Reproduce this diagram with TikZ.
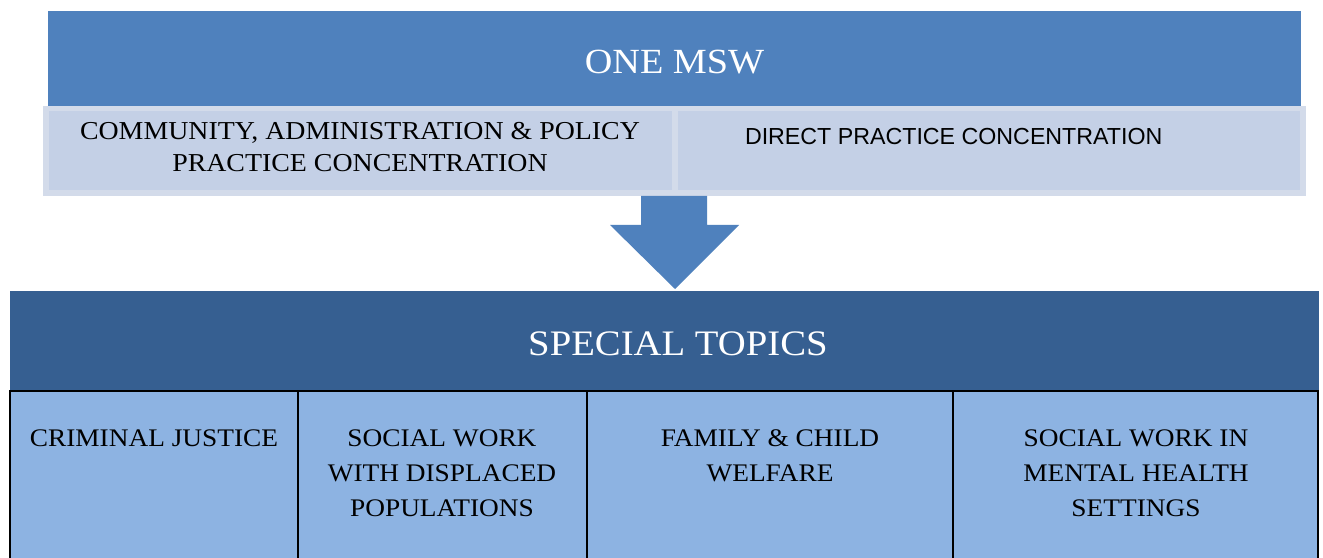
\documentclass[tikz,border=0pt]{standalone}
\usepackage{fontspec}
\setmainfont{Liberation Serif}[FakeStretch=1.08]
\newfontfamily\arialf{Liberation Sans}
\definecolor{topblue}{HTML}{4F81BD}
\definecolor{bandout}{HTML}{D3DBEA}
\definecolor{bandin}{HTML}{C4D0E6}
\definecolor{darkblue}{HTML}{365F91}
\definecolor{cellblue}{HTML}{8DB3E2}
\begin{document}
\begin{tikzpicture}[x=1bp,y=-1bp,
  plain/.style={inner sep=0pt, outer sep=0pt},
  headtxt/.style={plain, text=white, font=\fontsize{35.5}{40}\selectfont},
  conctxt/.style={plain, align=center, font=\fontsize{25.9}{32}\selectfont},
  celltxt/.style={plain, align=center, font=\fontsize{25.4}{35.5}\selectfont},
  cellbox/.style={fill=cellblue, draw=black, line width=2bp}]
\useasboundingbox (0,0) rectangle (1323,558);
\fill[white] (0,0) rectangle (1323,558);
% top header
\fill[topblue] (48,11) rectangle (1301,106);
\node[headtxt] (msw) at (674.5,62.5) {ONE MSW};
% concentrations band
\fill[bandout] (43,106) rectangle (1306,196);
\fill[bandin] (49,111) rectangle (672,190);
\fill[bandin] (678,111) rectangle (1300,190);
\node[conctxt, anchor=north] (cap) at (360,122.5) {COMMUNITY, ADMINISTRATION \& POLICY\\PRACTICE CONCENTRATION};
\node[plain, anchor=west, font=\arialf\fontsize{23.3}{26}\selectfont] (dp) at (745,136.5) {DIRECT PRACTICE CONCENTRATION};
% arrow
\fill[topblue] (641,196) -- (707,196) -- (707,225) -- (739,225) -- (675,289) -- (610,225) -- (641,225) -- cycle;
% special topics band
\fill[darkblue] (10,291) rectangle (1319,391);
\node[headtxt, font=\fontsize{36}{40}\selectfont] (st) at (678,343.5) {SPECIAL TOPICS};
% cells
\draw[cellbox] (10,391) rectangle (298,570);
\draw[cellbox] (298,391) rectangle (587,570);
\draw[cellbox] (587,391) rectangle (953,570);
\draw[cellbox] (953,391) rectangle (1318,570);
\node[celltxt, anchor=north] (c1) at (154,429.5) {CRIMINAL JUSTICE};
\node[celltxt, anchor=north] (c2) at (442,429.5) {SOCIAL WORK\\WITH DISPLACED\\POPULATIONS};
\node[celltxt, anchor=north] (c3) at (770,429.5) {FAMILY \& CHILD\\WELFARE};
\node[celltxt, anchor=north] (c4) at (1136,429.5) {SOCIAL WORK IN\\MENTAL HEALTH\\SETTINGS};
\end{tikzpicture}
\end{document}
